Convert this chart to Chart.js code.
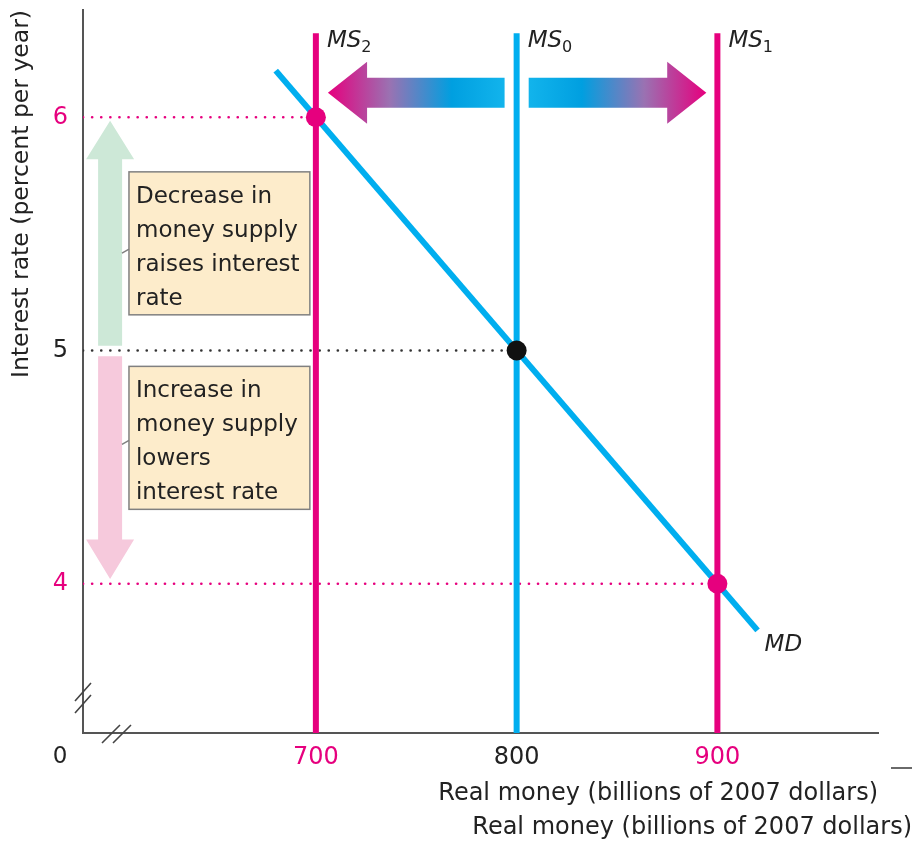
<!DOCTYPE html>
<html>
<head>
<meta charset="utf-8">
<script src="https://cdn.jsdelivr.net/npm/chart.js@4.4.1/dist/chart.umd.min.js"></script>
<style>
  html, body { margin: 0; padding: 0; background: #fff; }
  #wrap { width: 916px; height: 845px; }
</style>
</head>
<body>
<div id="wrap"><canvas id="chart" width="916" height="845"></canvas></div>
<script>
// money demand curve
const mdMoney = [680, 920];
const mdRate = [6.2, 3.8];

// money supply lines and the equilibrium each one gives
const supplyNames = ['0', '1', '2'];
const supplyMoney = [800, 900, 700];
const supplyRate = [5, 4, 6];
const supplyTop = 6.36;

// axis ticks
const xTicks = [700, 800, 900];
const yTicks = [4, 5, 6];

const PINK = '#e6007e';
const BLUE = '#00aeef';
const FONT = '"DejaVu Sans", sans-serif';
const X_MIN = 584, X_MAX = 980, Y_MIN = 3.36, Y_MAX = 6.46;

const tickColor = v => (v === 5 || v === 800 ? '#222' : PINK);

// guide (dotted) lines from the y axis to each equilibrium
const guideSets = supplyMoney.map((m, i) => ({
    data: [{ x: X_MIN, y: supplyRate[i] }, { x: m, y: supplyRate[i] }],
    showLine: true,
    borderColor: supplyRate[i] === 5 ? '#333' : PINK,
    borderWidth: 2.6,
    borderDash: [0.1, 9],
    borderCapStyle: 'round',
    pointRadius: 0
}));

const supplySets = supplyMoney.map((m, i) => ({
    data: [{ x: m, y: Y_MIN }, { x: m, y: supplyTop }],
    showLine: true,
    borderColor: i === 0 ? BLUE : PINK,
    borderWidth: 6,
    borderCapStyle: 'butt',
    pointRadius: 0
}));

const pointSet = {
    data: supplyMoney.map((m, i) => ({ x: m, y: supplyRate[i] })),
    showLine: false,
    pointRadius: 10,
    pointHoverRadius: 10,
    pointBorderWidth: 0,
    pointBackgroundColor: supplyRate.map(r => (r === 5 ? '#111' : PINK))
};

const mdSet = {
    data: mdMoney.map((m, i) => ({ x: m, y: mdRate[i] })),
    showLine: true,
    borderColor: BLUE,
    borderWidth: 6,
    borderCapStyle: 'butt',
    pointRadius: 0
};

// arrows & boxes, drawn under the curves
const decorPlugin = {
    id: 'decor',
    beforeDatasetsDraw(chart) {
        const c = chart.ctx;
        const xs = chart.scales.x, ys = chart.scales.y;
        const px = v => xs.getPixelForValue(v);
        const py = v => ys.getPixelForValue(v);

        // horizontal arrow with gradient, blue at tail -> pink at head
        const hArrow = (x0, xb, xt, yc) => {
            const p0 = px(x0), pb = px(xb), pt = px(xt), pc = py(yc);
            const g = c.createLinearGradient(p0, 0, pt, 0);
            g.addColorStop(0, '#12b4ec');
            g.addColorStop(0.3, '#009fe0');
            g.addColorStop(0.65, '#9a72b2');
            g.addColorStop(1, PINK);
            c.save();
            c.fillStyle = g;
            c.beginPath();
            c.moveTo(p0, pc - 15);
            c.lineTo(pb, pc - 15);
            c.lineTo(pb, pc - 31);
            c.lineTo(pt, pc);
            c.lineTo(pb, pc + 31);
            c.lineTo(pb, pc + 15);
            c.lineTo(p0, pc + 15);
            c.closePath();
            c.fill();
            c.restore();
        };
        hArrow(794, 725.5, 706, 6.105);
        hArrow(806, 875, 894.5, 6.105);

        // vertical pale arrows
        const vArrow = (xc, y0, yb, yt, col) => {
            const cx = px(xc), p0 = py(y0), pb = py(yb), pt = py(yt);
            c.save();
            c.fillStyle = col;
            c.beginPath();
            c.moveTo(cx - 12, p0);
            c.lineTo(cx - 12, pb);
            c.lineTo(cx - 24, pb);
            c.lineTo(cx, pt);
            c.lineTo(cx + 24, pb);
            c.lineTo(cx + 12, pb);
            c.lineTo(cx + 12, p0);
            c.closePath();
            c.fill();
            c.restore();
        };
        vArrow(597.5, 5.02, 5.82, 5.985, '#cde8d7');
        vArrow(597.5, 4.975, 4.19, 4.02, '#f6c9dc');

        // text boxes
        const box = (ytop, ybot, lines, leadY) => {
            const l = px(606.9), r = px(697), t = py(ytop), b = py(ybot);
            c.save();
            c.fillStyle = '#fdeccb';
            c.strokeStyle = '#808080';
            c.lineWidth = 1.5;
            c.fillRect(l, t, r - l, b - t);
            c.strokeRect(l, t, r - l, b - t);
            c.beginPath();
            c.moveTo(l - 7, py(leadY) + 3);
            c.lineTo(l, py(leadY) - 1);
            c.stroke();
            c.fillStyle = '#222';
            c.font = '23px ' + FONT;
            c.textBaseline = 'middle';
            lines.forEach((s, i) => c.fillText(s, l + 7, t + 25 + i * 34));
            c.restore();
        };
        box(5.766, 5.153, ['Decrease in', 'money supply', 'raises interest', 'rate'], 5.43);
        box(4.932, 4.319, ['Increase in', 'money supply', 'lowers', 'interest rate'], 4.61);
    },
    afterDraw(chart) {
        const c = chart.ctx;
        const xs = chart.scales.x, ys = chart.scales.y;
        const area = chart.chartArea;
        c.save();
        // curve labels
        const msLabel = (x, sub) => {
            const p = xs.getPixelForValue(x) + 11;
            const y = ys.getPixelForValue(supplyTop) + 8;
            c.fillStyle = '#222';
            c.font = 'italic 23px ' + FONT;
            c.textBaseline = 'middle';
            c.textAlign = 'left';
            c.fillText('MS', p, y);
            const w = c.measureText('MS').width;
            c.font = '16px ' + FONT;
            c.fillText(sub, p + w, y + 7);
        };
        supplyMoney.forEach((m, i) => msLabel(m, supplyNames[i]));
        c.font = 'italic 23px ' + FONT;
        c.fillStyle = '#222';
        c.textBaseline = 'middle';
        c.fillText('MD', xs.getPixelForValue(mdMoney[1]) + 7, ys.getPixelForValue(mdRate[1]) + 15);

        // origin
        c.font = '23px ' + FONT;
        c.textAlign = 'center';
        c.fillText('0', area.left - 23, area.bottom + 24);

        // axis titles
        c.font = '24px ' + FONT;
        c.textAlign = 'right';
        c.fillText('Real money (billions of 2007 dollars)', area.right, area.bottom + 61);
        c.fillText('Real money (billions of 2007 dollars)', area.right + 34, area.bottom + 95);
        c.save();
        c.font = '23.5px ' + FONT;
        c.translate(22, 378);
        c.rotate(-Math.PI / 2);
        c.textAlign = 'left';
        c.fillText('Interest rate (percent per year)', 0, 0);
        c.restore();

        // axis breaks
        c.strokeStyle = '#444';
        c.lineWidth = 1.6;
        c.beginPath();
        c.moveTo(area.left - 8, area.bottom - 32); c.lineTo(area.left + 8, area.bottom - 50);
        c.moveTo(area.left - 8, area.bottom - 20); c.lineTo(area.left + 8, area.bottom - 38);
        c.moveTo(area.left + 19, area.bottom + 10); c.lineTo(area.left + 37, area.bottom - 8);
        c.moveTo(area.left + 30, area.bottom + 10); c.lineTo(area.left + 48, area.bottom - 8);
        c.stroke();
        c.beginPath();
        c.moveTo(area.right + 13, area.bottom + 35); c.lineTo(area.right + 34, area.bottom + 35);
        c.stroke();
        c.restore();
    }
};

const noPad = s => {
    s.paddingTop = 0; s.paddingBottom = 0; s.paddingLeft = 0; s.paddingRight = 0;
};

new Chart(document.getElementById('chart'), {
    type: 'scatter',
    data: { datasets: [pointSet, ...supplySets, mdSet, ...guideSets] },
    options: {
        responsive: false,
        animation: false,
        events: [],
        layout: { padding: { left: 0, top: 5, right: 38, bottom: 0 } },
        plugins: { legend: { display: false }, tooltip: { enabled: false } },
        scales: {
            x: {
                type: 'linear', min: X_MIN, max: X_MAX,
                afterBuildTicks: s => { s.ticks = xTicks.map(v => ({ value: v })); },
                afterFit: s => { s.height = 112; noPad(s); },
                grid: { display: false, drawTicks: false },
                border: { display: true, color: '#555', width: 2 },
                ticks: {
                    padding: 10,
                    font: { family: FONT, size: 24 },
                    color: ctx => tickColor(ctx.tick.value)
                }
            },
            y: {
                type: 'linear', min: Y_MIN, max: Y_MAX,
                afterBuildTicks: s => { s.ticks = yTicks.map(v => ({ value: v })); },
                afterFit: s => { s.width = 83; noPad(s); },
                grid: { display: false, drawTicks: false },
                border: { display: true, color: '#555', width: 2 },
                ticks: {
                    padding: 15,
                    font: { family: FONT, size: 24 },
                    color: ctx => tickColor(ctx.tick.value)
                }
            }
        }
    },
    plugins: [decorPlugin]
});
</script>
</body>
</html>
